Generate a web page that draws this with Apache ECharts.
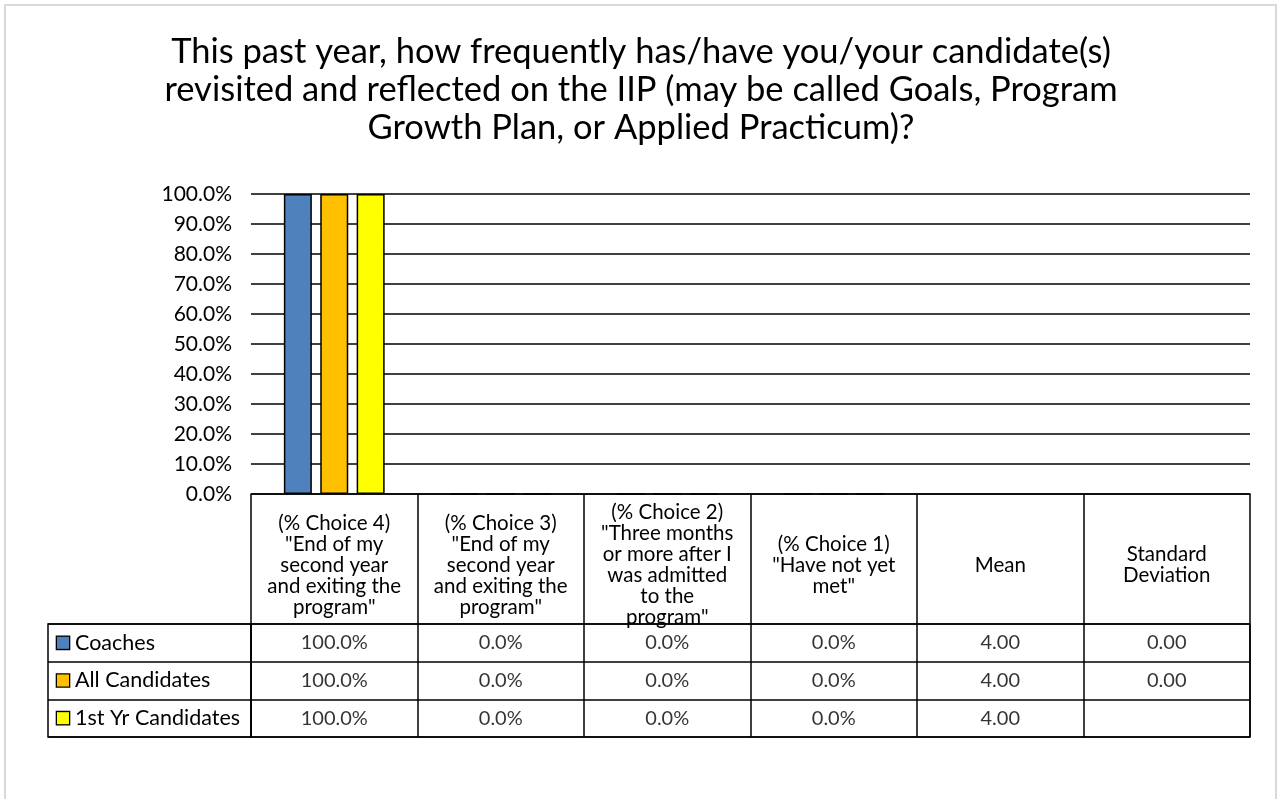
<!DOCTYPE html>
<html><head><meta charset="utf-8">
<script src="https://cdn.jsdelivr.net/npm/echarts@6/dist/echarts.min.js"></script>
<style>
html,body{margin:0;padding:0;background:#fff;}
#frame{position:absolute;left:4px;top:4px;width:1273px;height:800px;border:2px solid #d9d9d9;box-sizing:border-box;}
#chart{position:absolute;left:0;top:0;width:1282px;height:799px;}
</style></head>
<body><div id="frame"></div><div id="chart"></div>
<script>
const titleText = 'This past year, how frequently has/have you/your candidate(s)\nrevisited and reflected on the IIP (may be called Goals, Program\nGrowth Plan, or Applied Practicum)?';
const categories = [
  '(% Choice 4)\n"End of my\nsecond year\nand exiting the\nprogram"',
  '(% Choice 3)\n"End of my\nsecond year\nand exiting the\nprogram"',
  '(% Choice 2)\n"Three months\nor more after I\nwas admitted\nto the\nprogram"',
  '(% Choice 1)\n"Have not yet\nmet"',
  'Mean',
  'Standard\nDeviation'
];
const seriesNames = ['Coaches', 'All Candidates', '1st Yr Candidates'];
const coachesPct = [100, 0, 0, 0];
const allCandidatesPct = [100, 0, 0, 0];
const firstYrPct = [100, 0, 0, 0];
const means = [4.00, 4.00, 4.00];
const stdDevs = [0.00, 0.00, null];
const colors = ['#4F81BD', '#FFC000', '#FFFF00'];

const FONT = 'Lato';
const pctSets = [coachesPct, allCandidatesPct, firstYrPct];

// table cells
const cellData = [];
pctSets.forEach((arr, r) => {
  arr.forEach((v, c) => cellData.push([c, r, v.toFixed(1) + '%']));
  cellData.push([4, r, means[r].toFixed(2)]);
  cellData.push([5, r, stdDevs[r] == null ? '' : stdDevs[r].toFixed(2)]);
});

const rich = {};
colors.forEach((c, i) => {
  rich['m' + i] = {width: 12, height: 12, backgroundColor: c, borderColor: '#000', borderWidth: 1.3};
  rich['t' + i] = {fontFamily: FONT, fontSize: 21.5, color: '#000', padding: [0, 0, 0, 6]};
});

const lineStyle = {color: '#000', width: 1.5};

const barSeries = pctSets.map((arr, i) => ({
  type: 'bar', name: seriesNames[i], xAxisIndex: 0, yAxisIndex: 0,
  data: arr.concat([null, null]),
  barWidth: 28, barGap: '30%',
  itemStyle: {color: colors[i], borderColor: '#000', borderWidth: 1.5},
  silent: true
}));

const chart = echarts.init(document.getElementById('chart'), null, {renderer: 'canvas'});
chart.setOption({
  animation: false,
  backgroundColor: 'transparent',
  title: {
    text: titleText, left: 'center', top: 28,
    textStyle: {fontFamily: FONT, fontSize: 34.5, fontWeight: 'normal', color: '#000', lineHeight: 38}
  },
  grid: [
    {left: 251, top: 194, width: 999, height: 300, containLabel: false},
    {left: 48, top: 624, width: 203, height: 113, show: true, borderColor: '#000', borderWidth: 1.5, backgroundColor: 'transparent'},
    {left: 251, top: 624, width: 999, height: 113, show: true, borderColor: '#000', borderWidth: 1.5, backgroundColor: 'transparent'}
  ],
  xAxis: [
    {
      type: 'category', gridIndex: 0, data: categories,
      axisLine: {show: true, lineStyle: lineStyle},
      axisTick: {show: true, length: 130, lineStyle: lineStyle, interval: 0},
      axisLabel: {interval: 0, margin: 71, verticalAlign: 'middle', fontFamily: FONT, fontSize: 20.5, lineHeight: 21, color: '#000', align: 'center'},
      splitLine: {show: false}
    },
    {type: 'value', gridIndex: 1, show: false, min: 0, max: 1},
    {
      type: 'category', gridIndex: 2, data: categories.map((c, i) => i),
      axisLine: {show: false}, axisTick: {show: false}, axisLabel: {show: false},
      splitLine: {show: true, interval: 0, lineStyle: lineStyle}
    }
  ],
  yAxis: [
    {
      type: 'value', gridIndex: 0, min: 0, max: 100, interval: 10,
      axisLine: {show: false}, axisTick: {show: false},
      axisLabel: {formatter: v => v.toFixed(1) + '%', fontFamily: FONT, fontSize: 21, color: '#000', margin: 19},
      splitLine: {show: true, lineStyle: lineStyle}
    },
    {
      type: 'category', gridIndex: 1, data: seriesNames, inverse: true,
      axisLine: {show: false}, axisTick: {show: false},
      axisLabel: {inside: true, margin: 9, align: 'left',
        formatter: (v, i) => '{m' + i + '|}{t' + i + '|' + v + '}', rich: rich},
      splitLine: {show: true, interval: 0, lineStyle: lineStyle}
    },
    {
      type: 'category', gridIndex: 2, data: seriesNames, inverse: true,
      axisLine: {show: false}, axisTick: {show: false}, axisLabel: {show: false},
      splitLine: {show: true, interval: 0, lineStyle: lineStyle}
    }
  ],
  series: barSeries.concat([{
    type: 'scatter', xAxisIndex: 2, yAxisIndex: 2, data: cellData,
    symbolSize: 0, silent: true,
    label: {show: true, position: 'inside', formatter: p => p.data[2], fontFamily: FONT, fontSize: 20, color: '#000'}
  }])
});
</script></body></html>
